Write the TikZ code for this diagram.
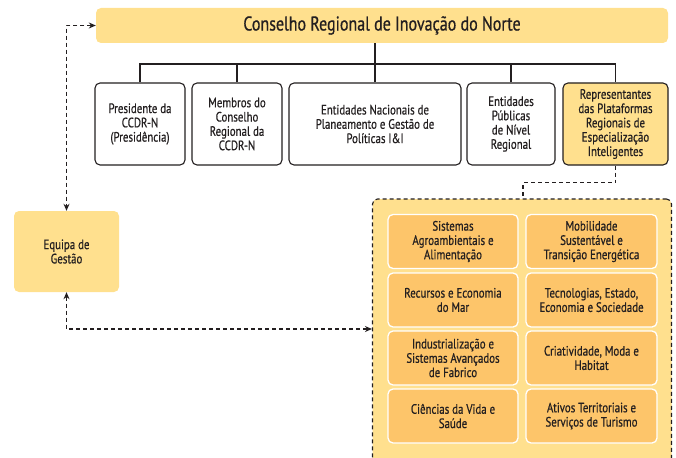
\documentclass[tikz,border=0pt]{standalone}
\usepackage{fontspec}
\setmainfont{PT Sans}[FakeStretch=0.8,FakeBold=0.6]
\usetikzlibrary{arrows.meta}
\definecolor{lightyel}{HTML}{FFE08E}
\definecolor{orangey}{HTML}{FDC56A}
\definecolor{ink}{HTML}{231F20}
\tikzset{
  orgbox/.style={draw=ink, line width=1.1pt, rounded corners=5pt, fill=white, align=center,
    minimum height=82pt, inner sep=1pt, font=\fontsize{13.6}{14.3}\selectfont, text=ink},
  yelbox/.style={fill=lightyel, rounded corners=5pt, align=center, inner sep=1pt, text=ink},
  areabox/.style={fill=orangey, draw=white, line width=1.3pt, rounded corners=5pt, align=center,
    minimum width=130pt, minimum height=54pt, inner sep=1pt, font=\fontsize{13.6}{14.3}\selectfont, text=ink},
  solidcon/.style={draw=ink, line width=1.1pt},
  dashcon/.style={draw=ink, line width=1.1pt, dash pattern=on 4pt off 3pt},
  dasharr/.style={dashcon, {Stealth[length=7pt,width=6pt]}-{Stealth[length=7pt,width=6pt]}}
}
\begin{document}
\begin{tikzpicture}[x=1pt,y=-1pt]
\useasboundingbox (0,0) rectangle (676,457);
% container
\node[fill=lightyel, draw=ink, line width=1.1pt, dash pattern=on 4pt off 3pt, rounded corners=5pt,
  minimum width=299pt, minimum height=271pt, inner sep=0pt] (cont) at (522,334.5) {};
% title
\node[yelbox, minimum width=572pt, minimum height=35pt, font=\fontsize{20}{22}\selectfont] (top) at (382,25.5)
  {Conselho Regional de Inovação do Norte};
% second row
\node[orgbox, minimum width=90pt] (b1) at (140,124) {Presidente da\\CCDR-N\\(Presidência)};
\node[orgbox, minimum width=90pt] (b2) at (237,124) {Membros do\\Conselho\\Regional da\\CCDR-N};
\node[orgbox, minimum width=172pt] (b3) at (375,124) {Entidades Nacionais de\\Planeamento e Gestão de\\Políticas I\&I};
\node[orgbox, minimum width=88pt] (b4) at (511,124) {Entidades\\Públicas\\de Nível\\Regional};
\node[orgbox, minimum width=105pt, fill=lightyel] (b5) at (615.5,124) {Representantes\\das Plataformas\\Regionais de\\Especialização\\Inteligentes};
% equipa
\node[yelbox, minimum width=105pt, minimum height=81pt, font=\fontsize{13.6}{14.3}\selectfont] (eq) at (66.5,251.5) {Equipa de\\Gestão};
% areas
\node[areabox] (a1) at (453,241.5) {Sistemas\\Agroambientais e\\Alimentação};
\node[areabox, minimum width=131pt] (a2) at (591.5,241.5) {Mobilidade\\Sustentável e\\Transição Energética};
\node[areabox] (a3) at (453,300) {Recursos e Economia\\do Mar};
\node[areabox, minimum width=131pt] (a4) at (591.5,300) {Tecnologias, Estado,\\Economia e Sociedade};
\node[areabox] (a5) at (453,358) {Industrialização e\\Sistemas Avançados\\de Fabrico};
\node[areabox, minimum width=131pt] (a6) at (591.5,358) {Criatividade, Moda e\\Habitat};
\node[areabox] (a7) at (453,416) {Ciências da Vida e\\Saúde};
\node[areabox, minimum width=131pt] (a8) at (591.5,416) {Ativos Territoriais e\\Serviços de Turismo};
% bus
\coordinate (bus) at (0,64);
\draw[solidcon] (b3.north) -- (b3.north |- top.south);
\draw[solidcon] (b1.north) -- (b1.north |- bus) -- (b5.north |- bus) -- (b5.north);
\draw[solidcon] (b2.north) -- (b2.north |- bus);
\draw[solidcon] (b4.north) -- (b4.north |- bus);
% dashed connectors
\coordinate (lowy) at (0,329);
\coordinate (cj) at (523,199);
\draw[dasharr] (top.west) -| (eq.north);
\draw[dasharr] (eq.south) |- (cont.west |- lowy);
\draw[dashcon] (b5.south) -- ++(0,17) -| (cj);
\end{tikzpicture}
\end{document}
